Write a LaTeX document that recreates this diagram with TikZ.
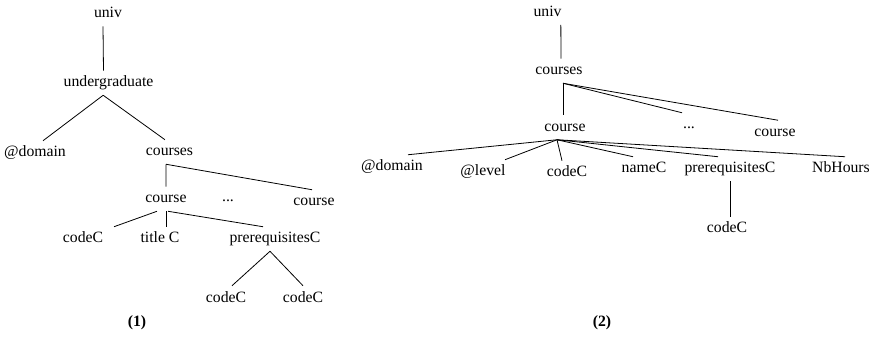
\documentclass[tikz,border=0pt]{standalone}
\usepackage{fontspec}
\setmainfont{Liberation Serif}
\begin{document}
\begin{tikzpicture}
  [x=0.75pt, y=-0.75pt,
   lbl/.style={anchor=base, inner sep=0pt, text height=12pt, text depth=6pt,
               font=\fontsize{11.8}{14}\selectfont},
   tag/.style={anchor=base, inner sep=0pt, font=\fontsize{11.8}{14}\selectfont\bfseries},
   edge/.style={line width=0.6pt, draw=black}]

  \useasboundingbox (0,0) rectangle (874,338);

  % Arbol (1)
  \node[lbl] (u1) at (108,18) {univ};
  \node[lbl] (g1) at (108.5,87) {undergraduate};
  \node[lbl] (d1) at (35,157) {@domain};
  \node[lbl] (c1) at (169.5,156) {courses};
  \node[lbl] (k1) at (166,203) {course};
  \node[lbl] (e1) at (228,202) {...};
  \node[lbl] (k2) at (314,206) {course};
  \node[lbl] (a1) at (83,243) {codeC};
  \node[lbl] (t1) at (160,243) {title C};
  \node[lbl] (p1) at (275,243) {prerequisitesC};
  \node[lbl] (a2) at (226,302) {codeC};
  \node[lbl] (a3) at (303,302) {codeC};
  \node[tag] (l1) at (137,326) {(1)};

  % Aristas (1)
  \draw[edge] ([xshift=-3.75pt]u1.south) -- ([xshift=-3.75pt]g1.north);
  \draw[edge] ([xshift=-4pt]g1.south) -- ([xshift=6pt]d1.north);
  \draw[edge] ([xshift=-4pt]g1.south) -- ([xshift=-3.4pt]c1.north);
  \draw[edge] ([xshift=-2.6pt]c1.south) -- (k1.north);
  \draw[edge] ([xshift=-2.6pt]c1.south) -- ([xshift=-1.5pt]k2.north);
  \draw[edge] ([xshift=-6.75pt]k1.south) -- ([xshift=23.25pt]a1.north);
  \draw[edge] (k1.south) -- ([xshift=4.5pt]t1.north);
  \draw[edge] ([xshift=1.5pt]k1.south) -- ([xshift=-9pt]p1.north);
  \draw[edge] ([xshift=-3.75pt]p1.south) -- ([xshift=4.5pt]a2.north);
  \draw[edge] ([xshift=-3.75pt]p1.south) -- (a3.north);

  % Arbol (2)
  \node[lbl] (u2) at (547.5,16.5) {univ};
  \node[lbl] (c2) at (559,75) {courses};
  \node[lbl] (k3) at (565,131.5) {course};
  \node[lbl] (e2) at (689,129) {...};
  \node[lbl] (k4) at (775,136.5) {course};
  \node[lbl] (d2) at (392,171) {@domain};
  \node[lbl] (v2) at (483,176) {@level};
  \node[lbl] (a4) at (567,177) {codeC};
  \node[lbl] (n2) at (644,173) {nameC};
  \node[lbl] (p2) at (730,173) {prerequisitesC};
  \node[lbl] (h2) at (841,173) {NbHours};
  \node[lbl] (a5) at (727,233) {codeC};
  \node[tag] (l2) at (602,326) {(2)};

  % Aristas (2)
  \draw[edge] ([xshift=10pt]u2.south) -- ([xshift=1.5pt]c2.north);
  \draw[edge] ([xshift=3pt]c2.south) -- ([xshift=-1.5pt]k3.north);
  \draw[edge] ([xshift=3pt]c2.south) -- ([xshift=-5.25pt]e2.north);
  \draw[edge] ([xshift=3pt]c2.south) -- ([xshift=2.25pt]k4.north);
  \foreach \to/\dx in {d2/12pt, v2/16.5pt, a4/-3.75pt, n2/-8.25pt, p2/-9pt, h2/3pt}
    \draw[edge] ([xshift=-6pt]k3.south) -- ([xshift=\dx]\to.north);
  \draw[edge] (p2.south) -- ([xshift=2.25pt]a5.north);
\end{tikzpicture}
\end{document}
